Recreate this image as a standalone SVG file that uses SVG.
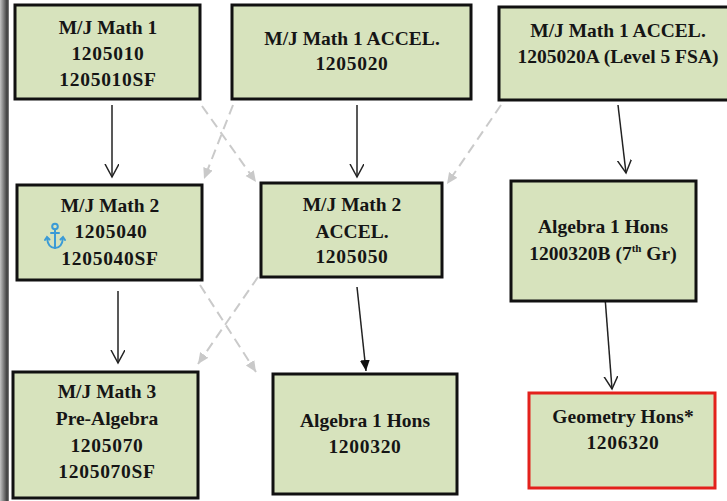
<svg xmlns="http://www.w3.org/2000/svg" width="727" height="501" viewBox="0 0 727 501">
<defs>
<linearGradient id="bar" x1="0" y1="0" x2="1" y2="0">
<stop offset="0" stop-color="#c4c4c4"/>
<stop offset="0.8" stop-color="#3c3c3c"/>
<stop offset="1" stop-color="#8a8a8a"/>
</linearGradient>
<marker id="openV" markerWidth="16" markerHeight="16" refX="13" refY="7" orient="auto" markerUnits="userSpaceOnUse">
<path d="M0,0 L13,7 L0,14" fill="none" stroke="#222" stroke-width="1.5"/>
</marker>
<marker id="fillTri" markerWidth="14" markerHeight="12" refX="11" refY="5" orient="auto" markerUnits="userSpaceOnUse">
<path d="M0,0 L11,5 L0,10 Z" fill="#111"/>
</marker>
<marker id="greyTri" markerWidth="14" markerHeight="12" refX="11" refY="5" orient="auto" markerUnits="userSpaceOnUse">
<path d="M0,0 L11,5 L0,10 Z" fill="#c9c9c9"/>
</marker>
</defs>
<style>
.box{fill:#d7e3bd;stroke:#111;stroke-width:3}
.red{fill:#d7e3bd;stroke:#e3211c;stroke-width:3}
text{font-family:"Liberation Serif","Times New Roman",serif;font-weight:bold;font-size:19.5px;fill:#151515;text-anchor:middle}
.num{letter-spacing:0.7px}
.solid{fill:none;stroke:#222;stroke-width:1.5}
.dash{fill:none;stroke:#cacaca;stroke-width:2;stroke-dasharray:10 6}
</style>
<rect width="727" height="501" fill="#ffffff"/>
<rect x="0" y="0" width="9" height="501" fill="url(#bar)"/>

<g id="connectors">
<line class="dash" x1="202" y1="106" x2="256" y2="182" marker-end="url(#greyTri)"/>
<line class="dash" x1="233" y1="105" x2="204" y2="179" marker-end="url(#greyTri)"/>
<line class="dash" x1="501" y1="105" x2="447" y2="184" marker-end="url(#greyTri)"/>
<line class="dash" x1="200" y1="285" x2="256" y2="372" marker-end="url(#greyTri)"/>
<line class="dash" x1="258" y1="277" x2="198" y2="364" marker-end="url(#greyTri)"/>
<line class="solid" x1="112" y1="105" x2="112" y2="177" marker-end="url(#openV)"/>
<line class="solid" x1="357" y1="105" x2="357" y2="177" marker-end="url(#openV)"/>
<line class="solid" x1="618" y1="105" x2="626" y2="173" marker-end="url(#openV)"/>
<line class="solid" x1="118" y1="291" x2="118" y2="363" marker-end="url(#openV)"/>
<line class="solid" x1="357" y1="287" x2="366" y2="371" marker-end="url(#fillTri)"/>
<line class="solid" x1="605" y1="297" x2="612" y2="389" marker-end="url(#openV)"/>
</g>

<g id="mj-math1">
<rect class="box" x="15" y="5" width="185" height="94"/>
<text x="108" y="34">M/J Math 1</text>
<text class="num" x="108" y="60">1205010</text>
<text class="num" x="108" y="86">1205010SF</text>
</g>

<g id="mj-math1-accel">
<rect class="box" x="232" y="5" width="239" height="94"/>
<text x="352" y="45">M/J Math 1 ACCEL.</text>
<text class="num" x="352" y="70">1205020</text>
</g>

<g id="mj-math1-accel-a">
<rect class="box" x="499" y="7" width="235" height="93"/>
<text x="618" y="37">M/J Math 1 ACCEL.</text>
<text x="618" y="63">1205020A (Level 5 FSA)</text>
</g>

<g id="mj-math2">
<rect class="box" x="17" y="185" width="185" height="95"/>
<text x="110" y="212">M/J Math 2</text>
<text class="num" x="111" y="238">1205040</text>
<text class="num" x="110" y="265">1205040SF</text>
<g fill="none" stroke="#3b9bd6" stroke-width="2" stroke-linecap="round">
<circle cx="55" cy="226.5" r="2.8"/>
<line x1="55" y1="229.5" x2="55" y2="248"/>
<line x1="51" y1="233" x2="59" y2="233"/>
<path d="M47,238 Q48,248 55,248 Q62,248 63,238"/>
<path d="M45,240 L47,237 L49.5,239.5"/>
<path d="M60.5,239.5 L63,237 L65,240"/>
</g>
</g>

<g id="mj-math2-accel">
<rect class="box" x="261" y="183" width="181" height="94"/>
<text x="352" y="211">M/J Math 2</text>
<text x="352" y="238">ACCEL.</text>
<text class="num" x="352" y="263">1205050</text>
</g>

<g id="alg1-hons-b">
<rect class="box" x="511" y="181" width="185" height="120"/>
<text x="603" y="233">Algebra 1 Hons</text>
<text x="603" y="260">1200320B (7<tspan font-size="11" dy="-8">th</tspan><tspan dy="8"> Gr)</tspan></text>
</g>

<g id="mj-math3">
<rect class="box" x="13" y="372" width="185" height="126"/>
<text x="107" y="398">M/J Math 3</text>
<text x="107" y="425">Pre-Algebra</text>
<text class="num" x="107" y="452">1205070</text>
<text class="num" x="107" y="478">1205070SF</text>
</g>

<g id="alg1-hons">
<rect class="box" x="273" y="374" width="184" height="120"/>
<text x="365" y="427">Algebra 1 Hons</text>
<text class="num" x="365" y="453">1200320</text>
</g>

<g id="geometry-hons">
<rect class="red" x="529" y="393" width="186" height="95"/>
<text x="623" y="423">Geometry Hons*</text>
<text class="num" x="623" y="449">1206320</text>
</g>
</svg>
